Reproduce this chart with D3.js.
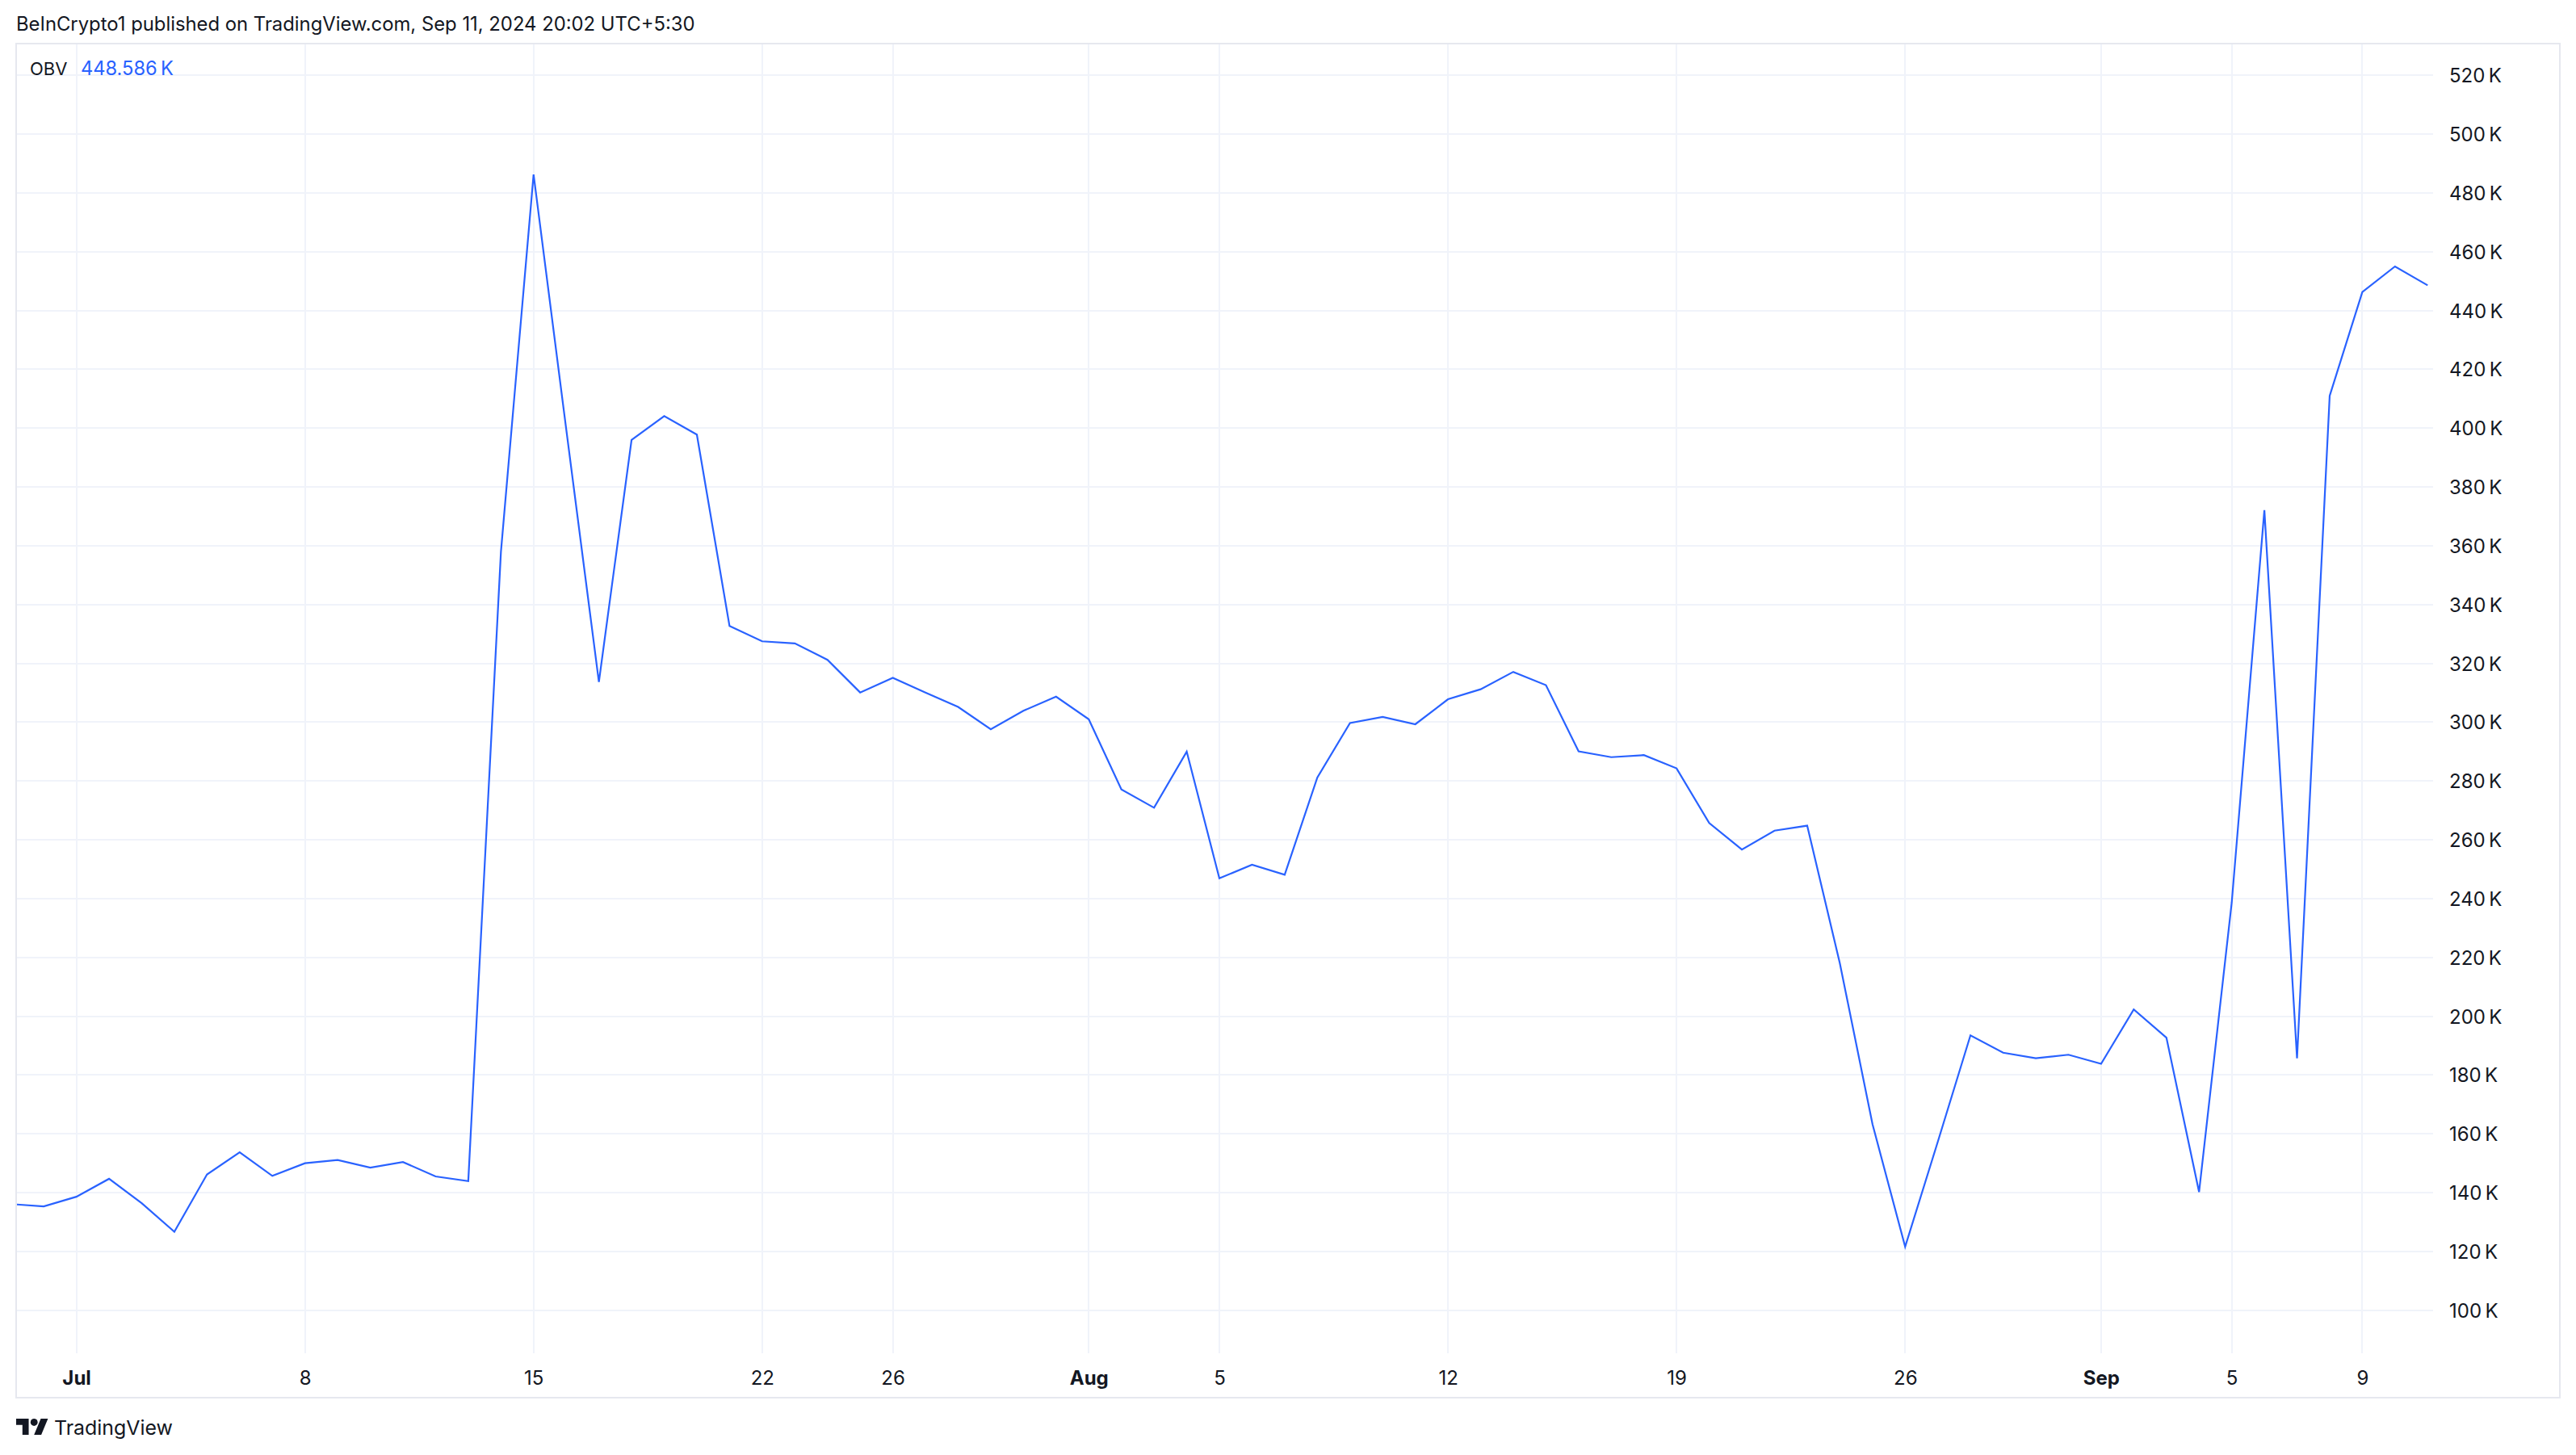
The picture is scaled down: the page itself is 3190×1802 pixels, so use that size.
<!DOCTYPE html>
<html>
<head>
<meta charset="utf-8">
<script src="https://cdn.jsdelivr.net/npm/d3@7"></script>
<style>
  html, body { margin: 0; padding: 0; background: #ffffff; }
  svg { display: block; }
  text { font-family: Inter, "Noto Sans", Roboto, sans-serif; fill: #131722; }
</style>
</head>
<body>
<svg id="chart" width="3190" height="1802"></svg>
<script>
// ---------- data ----------
const titleText = "BeInCrypto1 published on TradingView.com, Sep 11, 2024 20:02 UTC+5:30";
const indicatorName = "OBV";
const indicatorValue = "448.586\u2009K";
const firstDate = "2024-06-29";
// daily OBV values (thousands), Jun 29 .. Sep 11, 2024
const obvValues = [
  136.1, 135.3,
  138.6, 144.7, 136.4, 126.7, 146.2, 153.7, 145.7, 150.0, 151.1, 148.5,
  150.4, 145.5, 143.9, 357.9, 486.3, 399.6, 313.7, 396.0, 404.1, 397.8,
  332.7, 327.5, 326.8, 321.2, 310.1, 315.1, 310.1, 305.2, 297.6, 303.9, 308.7,
  301.0, 277.1, 270.9, 290.0, 246.9, 251.5, 248.1, 281.2, 299.7, 301.8,
  299.3, 307.8, 311.2, 317.1, 312.6, 290.1, 288.1, 288.8, 284.3, 265.7,
  256.7, 263.1, 264.8, 218.0, 163.3, 121.6, 157.3, 193.5, 187.6, 185.7, 186.9,
  183.8, 202.3, 192.7, 140.2, 238.6, 372.1, 185.7, 411.0, 446.3, 455.0, 448.586
];
const xTickDates = ["2024-07-01","2024-07-08","2024-07-15","2024-07-22","2024-07-26",
                    "2024-08-01","2024-08-05","2024-08-12","2024-08-19","2024-08-26",
                    "2024-09-01","2024-09-05","2024-09-09"];
const xTickLabels = ["Jul","8","15","22","26","Aug","5","12","19","26","Sep","5","9"];
const xTickBold   = [true,false,false,false,false,true,false,false,false,false,true,false,false];
const yTickValues = [100,120,140,160,180,200,220,240,260,280,300,320,340,360,380,400,420,440,460,480,500,520];

// ---------- layout ----------
const W = 3190, H = 1802;
const frame = {left: 20, top: 54, right: 3170, bottom: 1731};
const plot = {left: 20, top: 54, right: 3013, bottom: 1676};
const colors = {grid: "#f0f3fa", frame: "#e6e8ef", text: "#131722", line: "#2962ff"};

const parse = d3.utcParse("%Y-%m-%d");
const start = parse(firstDate);
const series = obvValues.map((v, i) => ({date: d3.utcDay.offset(start, i), value: v}));

const x = d3.scaleUtc()
  .domain([parse("2024-07-01"), parse("2024-09-11")])
  .range([94.6, 3006.3]);
const y = d3.scaleLinear()
  .domain([100, 520])
  .range([1622.7, 93.3]);

const svg = d3.select("#chart");
svg.append("rect").attr("width", W).attr("height", H).attr("fill", "#ffffff");

function fitWidth(sel, target) {
  const w = sel.node().getComputedTextLength();
  const fs = parseFloat(sel.attr("font-size"));
  sel.attr("font-size", fs * target / w);
  return sel;
}

// title
fitWidth(svg.append("text")
  .attr("x", 20).attr("y", 38)
  .attr("font-size", 22)
  .text(titleText), 841);

// frame
svg.append("rect")
  .attr("x", frame.left).attr("y", frame.top)
  .attr("width", frame.right - frame.left).attr("height", frame.bottom - frame.top)
  .attr("fill", "none").attr("stroke", colors.frame).attr("stroke-width", 2);

// gridlines
const grid = svg.append("g");
grid.selectAll("line.h").data(yTickValues).join("line")
  .attr("class", "h")
  .attr("x1", plot.left + 1).attr("x2", plot.right)
  .attr("y1", d => Math.round(y(d))).attr("y2", d => Math.round(y(d)))
  .attr("stroke", colors.grid).attr("stroke-width", 2);
grid.selectAll("line.v").data(xTickDates.map(parse)).join("line")
  .attr("class", "v")
  .attr("x1", d => Math.round(x(d))).attr("x2", d => Math.round(x(d)))
  .attr("y1", plot.top + 1).attr("y2", plot.bottom)
  .attr("stroke", colors.grid).attr("stroke-width", 2);

// line
svg.append("clipPath").attr("id", "clip")
  .append("rect")
  .attr("x", plot.left + 1).attr("y", plot.top + 1)
  .attr("width", plot.right - plot.left - 1).attr("height", plot.bottom - plot.top - 1);

const line = d3.line().x(d => x(d.date)).y(d => y(d.value));
svg.append("path")
  .datum(series)
  .attr("clip-path", "url(#clip)")
  .attr("d", line)
  .attr("fill", "none")
  .attr("stroke", colors.line)
  .attr("stroke-width", 2.2)
  .attr("stroke-linejoin", "miter");

// y axis (right)
const yAxis = d3.axisRight(y)
  .tickValues(yTickValues)
  .tickSize(0).tickPadding(0)
  .tickFormat(d => d + "\u2009K");
const gy = svg.append("g").attr("transform", "translate(3033,0)").call(yAxis);
gy.select(".domain").remove();
gy.selectAll("text")
  .attr("x", 0).attr("dy", null)
  .attr("dominant-baseline", "central")
  .attr("text-anchor", "start")
  .attr("font-family", "Inter, 'Noto Sans', sans-serif")
  .attr("font-size", 24)
  .attr("fill", colors.text);

// x axis
const xAxis = d3.axisBottom(x)
  .tickValues(xTickDates.map(parse))
  .tickSize(0).tickPadding(0)
  .tickFormat((d, i) => xTickLabels[i]);
const gx = svg.append("g").attr("transform", "translate(0,1706)").call(xAxis);
gx.select(".domain").remove();
gx.selectAll("text")
  .attr("y", 0).attr("dy", null)
  .attr("dominant-baseline", "central")
  .attr("font-family", "Inter, 'Noto Sans', sans-serif")
  .attr("font-size", 24)
  .attr("font-weight", (d, i) => xTickBold[i] ? 700 : 400)
  .attr("fill", colors.text);

// indicator legend
svg.append("text")
  .attr("x", 37).attr("y", 93)
  .attr("font-size", 22)
  .text(indicatorName);
const valText = svg.append("text")
  .attr("x", 100).attr("y", 93)
  .attr("font-size", 22)
  .style("fill", colors.line)
  .text(indicatorValue);
fitWidth(valText, 115);

// TradingView logo
const logo = svg.append("g").attr("transform", "translate(20,1752.6) scale(1.11)");
logo.append("path").attr("d", "M14 22H7V11H0V4h14v18z").attr("fill", colors.text);
logo.append("circle").attr("cx", 20).attr("cy", 8).attr("r", 4).attr("fill", colors.text);
logo.append("path").attr("d", "M28 22h-8l7.5-18h8L28 22z").attr("fill", colors.text);
fitWidth(svg.append("text")
  .attr("x", 67).attr("y", 1777)
  .attr("font-size", 27)
  .text("TradingView"), 147);
</script>
</body>
</html>
